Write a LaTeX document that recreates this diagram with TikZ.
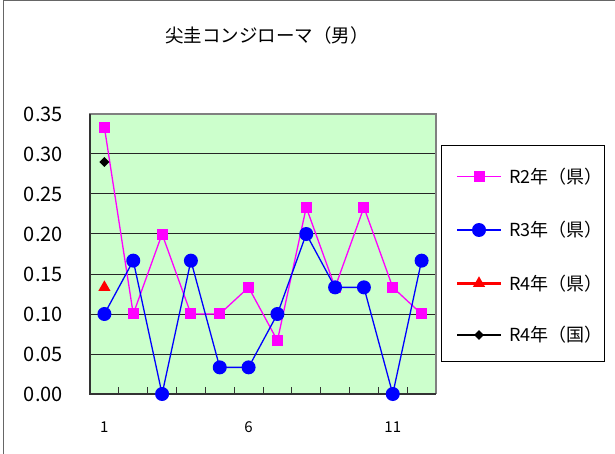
\documentclass[tikz,border=0pt]{standalone}
\usepackage{fontspec}
\setmainfont{Noto Sans CJK JP}
\usetikzlibrary{shapes.geometric}
\definecolor{plotbg}{HTML}{CCFFCC}
\definecolor{mag}{HTML}{FF00FF}
\definecolor{blu}{HTML}{0000FF}
\begin{document}
\begin{tikzpicture}[x=1pt,y=-1pt,
  sqmark/.style={rectangle,fill=mag,minimum size=11pt,inner sep=0pt},
  circmark/.style={circle,fill=blu,minimum size=14pt,inner sep=0pt},
  trimark/.style={regular polygon,regular polygon sides=3,fill=red,minimum size=14pt,inner sep=0pt},
  diamark/.style={diamond,fill=black,minimum size=10pt,inner sep=0pt},
  grid/.style={black!85,line width=1pt},
  ylab/.style={anchor=east,font=\fontsize{20}{20}\selectfont,inner sep=0pt},
  xlab/.style={font=\fontsize{15}{15}\selectfont,inner sep=0pt},
  leglab/.style={anchor=west,font=\fontsize{18}{18}\selectfont,inner sep=0pt},
  r2line/.style={mag,line width=1.3pt},
  r3line/.style={blu,line width=1.3pt}]
\useasboundingbox (0,0) rectangle (615,454);
\fill[white] (0,0) rectangle (615,454);
\draw[black!60,line width=1pt] (3,454) -- (3,0.5) -- (615,0.5);
% title
\node[font=\fontsize{18.5}{18.5}\selectfont,inner sep=0pt] (title) at (267,35) {尖圭コンジローマ（男）};
% plot area
\fill[plotbg] (90,114) rectangle (436,394);
\foreach \v in {1,...,6} \draw[grid] (90,{394-\v*40}) -- (436,{394-\v*40});
\draw[black!50,line width=2pt] (90,394) -- (90,114) -- (436,114) -- (436,394);
\draw[black!80,line width=1.5pt] (90,114) -- (90,394) -- (436,394);
\foreach \k in {1,...,11} \draw[black!80,line width=1pt] ({90+\k*28.833},394) -- ++(0,-7);
% y labels
\foreach \v/\t [count=\n] in {0/0.00,1/0.05,2/0.10,3/0.15,4/0.20,5/0.25,6/0.30,7/0.35}
  \node[ylab] (y\n) at (63,{394-\v*40}) {\t};
% x labels
\node[xlab] (x1) at (104.4,427) {1};
\node[xlab] (x6) at (248.6,427) {6};
\node[xlab] (x11) at (392.8,427) {11};
% series R2
\foreach \v [count=\i] in {0.3333,0.1,0.2,0.1,0.1,0.1333,0.0667,0.2333,0.1333,0.2333,0.1333,0.1}
  \coordinate (a\i) at ({90+(\i-0.5)*28.833},{394-\v*800});
\draw[r2line] (a1) -- (a2) -- (a3) -- (a4) -- (a5) -- (a6) -- (a7) -- (a8) -- (a9) -- (a10) -- (a11) -- (a12);
\foreach \i in {1,...,12} \node[sqmark] (ma\i) at (a\i) {};
% series R3
\foreach \v [count=\i] in {0.1,0.1667,0,0.1667,0.0333,0.0333,0.1,0.2,0.1333,0.1333,0,0.1667}
  \coordinate (b\i) at ({90+(\i-0.5)*28.833},{394-\v*800});
\draw[r3line] (b1) -- (b2) -- (b3) -- (b4) -- (b5) -- (b6) -- (b7) -- (b8) -- (b9) -- (b10) -- (b11) -- (b12);
\foreach \i in {1,...,12} \node[circmark] (mb\i) at (b\i) {};
% R4
\node[trimark] (mc1) at (104.4,{394-0.1333*800}) {};
\node[diamark] (md1) at (104.4,{394-0.29*800}) {};
% legend
\draw[black,line width=1pt] (441.7,146) rectangle (604.7,361);
\coordinate (l1a) at (457,176.7); \coordinate (l1b) at (501,176.7);
\coordinate (l2a) at (457,230); \coordinate (l2b) at (501,230);
\coordinate (l3a) at (457,283.3); \coordinate (l3b) at (501,283.3);
\coordinate (l4a) at (457,335); \coordinate (l4b) at (501,335);
\draw[r2line] (l1a) -- (l1b);
\node[sqmark] (lm1) at (479,176.7) {};
\draw[r3line] (l2a) -- (l2b);
\node[circmark] (lm2) at (479,230) {};
\draw[red,line width=3pt] (l3a) -- (l3b);
\node[trimark] (lm3) at (479,283.3) {};
\draw[black,line width=1.3pt] (l4a) -- (l4b);
\node[diamark] (lm4) at (479,335) {};
\node[leglab] (t1) at (509,176.7) {R2年（県）};
\node[leglab] (t2) at (509,230) {R3年（県）};
\node[leglab] (t3) at (509,283.3) {R4年（県）};
\node[leglab] (t4) at (509,335) {R4年（国）};
\end{tikzpicture}
\end{document}
